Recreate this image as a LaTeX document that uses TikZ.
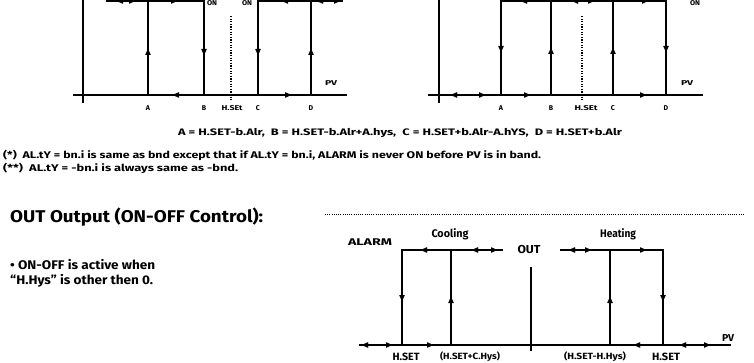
\documentclass[tikz,border=0pt]{standalone}
\usepackage{fontspec}
\usepackage{graphicx}
\setmainfont{Fira Sans}
\usetikzlibrary{arrows.meta}
\newcommand\fw[2]{\resizebox{#1pt}{\height}{#2}}
\newcommand\fs[1]{\bfseries\fontsize{#1}{#1}\selectfont}
\tikzset{
  ln/.style={line width=1.5pt, line cap=butt},
  ax/.style={line width=1.5pt},
  tp/.style={line width=0.01pt, -{Latex[length=7pt,width=5.5pt]}},
  dot/.style={line width=1.3pt, dash pattern=on 1.3pt off 1.3pt},
  lab/.style={font=\fs{7}, inner sep=0pt},
  labm/.style={font=\fs{10.5}, inner sep=0pt},
  txt/.style={font=\fs{9.7}, inner sep=0pt, anchor=base west},
}
\newcommand\tR[1]{\draw[tp] (#1) ++(-0.01,0) -- ++(0.01,0);}
\newcommand\tL[1]{\draw[tp] (#1) ++(0.01,0) -- ++(-0.01,0);}
\newcommand\tU[1]{\draw[tp] (#1) ++(0,0.01) -- ++(0,-0.01);}
\newcommand\tD[1]{\draw[tp] (#1) ++(0,-0.01) -- ++(0,0.01);}
\begin{document}
\begin{tikzpicture}[x=1pt,y=-1pt]
\useasboundingbox (0,0) rectangle (754,363);
% ---------------- top-left diagram
\coordinate (o1a) at (83,0); \coordinate (o1b) at (83,103);
\coordinate (x1a) at (73,95); \coordinate (x1b) at (347,95);
\draw[ax] (o1a) -- (o1b);
\draw[ax] (x1a) -- (x1b);
\coordinate (A1t) at (148,1); \coordinate (A1b) at (148,95);
\coordinate (B1t) at (204,1); \coordinate (B1b) at (204,95);
\coordinate (C1t) at (258,1); \coordinate (C1b) at (258,95);
\coordinate (D1t) at (311,1); \coordinate (D1b) at (311,95);
\coordinate (L1s) at (106,1); \coordinate (R1e) at (343,1);
\draw[ln] (L1s) -- (B1t) -- (B1b);
\draw[ln] (A1t) -- (A1b);
\draw[ln] (C1b) -- (C1t) -- (R1e);
\draw[ln] (D1t) -- (D1b);
\draw[dot] (231,16) -- (231,100);
\tL{116,1} \tR{136,1} \tR{178,1}
\tL{281,1} \tL{316,1} \tR{341,1}
\tU{148,48} \tD{204,56} \tD{258,56} \tU{311,48}
\tL{172,95} \tR{292,95}
\node[lab] (on1) at (212,3.5) {\fw{10}{ON}};
\node[lab] (on2) at (247,3.5) {\fw{10}{ON}};
\node[lab] (a1) at (148,108) {A};
\node[lab] (b1) at (204,108) {B};
\node[lab] (h1) at (232,108) {\fw{21}{H.SEt}};
\node[lab] (c1) at (258,108) {C};
\node[lab] (d1) at (311,108) {D};
\node[lab] (pv1) at (331,83) {\fw{12}{PV}};
% ---------------- top-right diagram
\coordinate (o2a) at (439,0); \coordinate (o2b) at (439,103);
\coordinate (x2a) at (428,95); \coordinate (x2b) at (703,95);
\draw[ax] (o2a) -- (o2b);
\draw[ax] (x2a) -- (x2b);
\coordinate (A2t) at (501,1); \coordinate (A2b) at (501,95);
\coordinate (B2t) at (551,1); \coordinate (B2b) at (551,95);
\coordinate (C2t) at (613,1); \coordinate (C2b) at (613,95);
\coordinate (D2t) at (666,1); \coordinate (D2b) at (666,95);
\draw[ln] (A2b) -- (A2t) -- (D2t) -- (D2b);
\draw[ln] (B2t) -- (B2b);
\draw[ln] (C2t) -- (C2b);
\draw[dot] (582,16) -- (582,100);
\tL{520,1} \tL{571,1} \tR{595,1} \tR{649,1}
\tD{501,53} \tU{551,47} \tU{613,47} \tD{666,53}
\tL{450,95} \tR{486,95} \tR{531,95} \tR{647,95}
\node[lab] (on3) at (695,3.5) {\fw{10}{ON}};
\node[lab] (a2) at (501,108) {A};
\node[lab] (b2) at (551,108) {B};
\node[lab] (h2) at (586,108) {\fw{23}{H.SEt}};
\node[lab] (c2) at (613,108) {C};
\node[lab] (d2) at (666,108) {D};
\node[lab] (pv2) at (687,83) {\fw{12}{PV}};
% ---------------- texts
\node[lab, font=\fs{9.4}] (form) at (400,133) {\fw{444}{A = H.SET-b.Alr,\ \ B = H.SET-b.Alr+A.hys,\ \ C = H.SET+b.Alr-A.hYS,\ \ D = H.SET+b.Alr}};
\node[txt] (n1) at (3,158.5) {\fw{538}{(*)\ \ AL.tY = bn.i is same as bnd except that if AL.tY = bn.i, ALARM is never ON before PV is in band.}};
\node[txt] (n2) at (3,172) {\fw{235}{(**)\ \ AL.tY = -bn.i is always same as -bnd.}};
\node[txt, font=\fs{17}] (title) at (10,223) {\fw{253}{OUT Output (ON-OFF Control):}};
\draw[dot, line width=1pt, dash pattern=on 1pt off 1.2pt] (325,215) -- (744,215);
\node[txt, font=\fs{12.5}] (b1l) at (10,269.5) {\fw{145}{\symbol{"2022} ON-OFF is active when}};
\node[txt, font=\fs{12.5}] (b2l) at (10,284.5) {\fw{143}{“H.Hys” is other then 0.}};
% ---------------- bottom diagram
\coordinate (x3a) at (359,345); \coordinate (x3b) at (731,345);
\draw[ax] (x3a) -- (x3b);
\tL{361,345}
\coordinate (HLt) at (402,250); \coordinate (HLb) at (402,345);
\coordinate (CHt) at (451,250); \coordinate (CHb) at (451,345);
\coordinate (Le) at (503,250);
\coordinate (Rs) at (560,250);
\coordinate (HHt) at (610,250); \coordinate (HHb) at (610,345);
\coordinate (HRt) at (663,250); \coordinate (HRb) at (663,345);
\coordinate (Ot) at (531,267); \coordinate (Ob) at (531,351);
\draw[ln] (HLb) -- (HLt) -- (Le);
\draw[ln] (CHt) -- (CHb);
\draw[ln] (Rs) -- (HRt) -- (HRb);
\draw[ln] (HHt) -- (HHb);
\draw[ln] (Ot) -- (Ob);
\tL{420,250} \tL{471,250} \tR{498,250}
\tL{568,250} \tR{592,250} \tR{647,250}
\tD{402,302} \tU{451,296} \tU{610,296} \tD{663,302}
\tR{393,345} \tR{434,345}
\tL{633,345} \tL{679,345} \tR{711,345}
\node[labm, font=\fs{11.5}] (out) at (529,250) {\fw{23}{OUT}};
\node[labm, font=\fs{11}] (cool) at (450,234) {\fw{37}{Cooling}};
\node[labm, font=\fs{11}] (heat) at (618,234) {\fw{36}{Heating}};
\node[labm, font=\fs{9.7}] (alarm) at (370,242) {\fw{44}{ALARM}};
\node[labm, font=\fs{10}] (pv3) at (728,338) {\fw{12}{PV}};
\node[labm, font=\fs{10.5}] (hs1) at (406,357) {\fw{27}{H.SET}};
\node[labm, font=\fs{9}] (hc) at (470,357) {\fw{60}{(H.SET+C.Hys)}};
\node[labm, font=\fs{9}] (hh) at (595,357) {\fw{62}{(H.SET-H.Hys)}};
\node[labm, font=\fs{10.5}] (hs2) at (666,357) {\fw{28}{H.SET}};
\end{tikzpicture}
\end{document}
